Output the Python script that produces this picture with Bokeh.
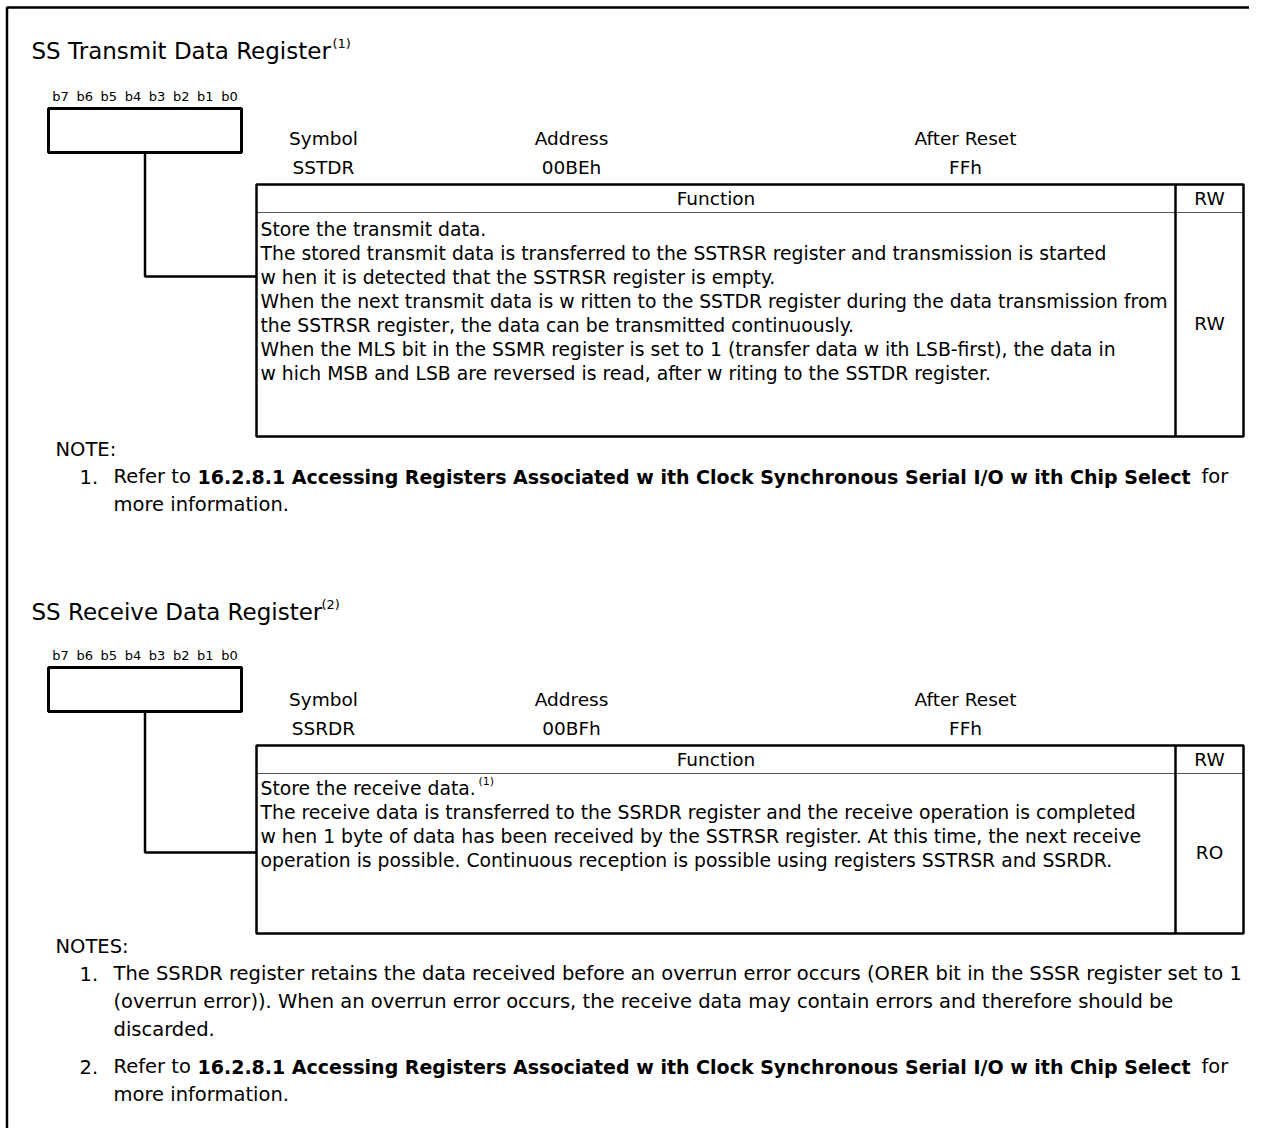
from bokeh.plotting import figure
from bokeh.models import Range1d
from bokeh.core.properties import value
from bokeh.embed import file_html
from bokeh.resources import INLINE

# ---------------- content ----------------
TITLES = ["SS Transmit Data Register", "SS Receive Data Register"]
TITLE_REFS = ["(1)", "(2)"]
BITS = ["b7", "b6", "b5", "b4", "b3", "b2", "b1", "b0"]
INFO_HEADERS = ["Symbol", "Address", "After Reset"]
SYMBOLS = ["SSTDR", "SSRDR"]
ADDRESSES = ["00BEh", "00BFh"]
AFTER_RESET = ["FFh", "FFh"]
COL_HEADERS = ["Function", "RW"]
RW_VALUES = ["RW", "RO"]

FUNCTION_1 = [
    "Store the transmit data.",
    "The stored transmit data is transferred to the SSTRSR register and transmission is started",
    "w hen it is detected that the SSTRSR register is empty.",
    "When the next transmit data is w ritten to the SSTDR register during the data transmission from",
    "the SSTRSR register, the data can be transmitted continuously.",
    "When the MLS bit in the SSMR register is set to 1 (transfer data w ith LSB-first), the data in",
    "w hich MSB and LSB are reversed is read, after w riting to the SSTDR register.",
]
FUNCTION_2 = [
    "Store the receive data.",
    "The receive data is transferred to the SSRDR register and the receive operation is completed",
    "w hen 1 byte of data has been received by  the SSTRSR register. At this time, the next receive",
    "operation is possible. Continuous reception is possible using registers SSTRSR and SSRDR.",
]
FUNCTION_2_REF = "(1)"

NOTE_HEADS = ["NOTE:", "NOTES:"]
REFER_PRE = "Refer to"
REFER_BOLD = "16.2.8.1 Accessing Registers Associated w ith Clock Synchronous Serial I/O w ith Chip Select"
REFER_POST = "for"
REFER_TAIL = "more information."
NOTE2_ITEM1 = [
    "The SSRDR register retains the data received before an overrun error occurs (ORER bit in the SSSR register set to 1",
    "(overrun error)). When an overrun error occurs, the receive data may contain errors and therefore should be",
    "discarded.",
]

# ---------------- styling ----------------
FONT = "DejaVu Sans"
BODY = "18.8px"
INFO_SIZE = "18.5px"
NOTE_SIZE = "19.5px"
INK = "#000000"

p = figure(width=1249, height=1128,
           x_range=Range1d(0, 1249), y_range=Range1d(1128, 0),
           output_backend="svg", toolbar_location=None,
           x_axis_location=None, y_axis_location=None,
           min_border=0, background_fill_color="white",
           border_fill_color="white")
p.grid.visible = False
p.outline_line_color = None


def txt(x, y, t, size=BODY, align="left", style="normal", baseline="middle"):
    p.text(x=x, y=y, text=t, text_font=value(FONT), text_font_size=size,
           text_align=align, text_baseline=baseline, text_color=INK,
           text_font_style=style)


# outer frame (top and left rules)
p.line(x=[6.5, 6.5, 1249], y=[1128, 7, 7], line_color=INK, line_width=2.5)

blocks = [
    dict(title_y=50, ref_x=332, bits_y=96, box=(108, 152), info_y=(138, 167),
         table=(184, 212, 436), conn_y=276, lines=FUNCTION_1, line0=229),
    dict(title_y=611, ref_x=321, bits_y=655, box=(667, 711), info_y=(699, 728),
         table=(745, 773, 933), conn_y=852, lines=FUNCTION_2, line0=788),
]

BOX_L, BOX_R = 48, 241
TAB_L, TAB_R, TAB_DIV = 256, 1243, 1175
INFO_X = [323, 571, 965]
values_by_block = [
    [SYMBOLS[0], ADDRESSES[0], AFTER_RESET[0]],
    [SYMBOLS[1], ADDRESSES[1], AFTER_RESET[1]],
]

for i, b in enumerate(blocks):
    ty = b["title_y"]
    txt([31], [ty], [TITLES[i]], size="23px")
    txt([b["ref_x"]], [ty - 7], [TITLE_REFS[i]], size="13px")

    # bit labels over register box
    cell = (BOX_R - BOX_L) / len(BITS)
    bx = [BOX_L + cell * (k + 0.5) for k in range(len(BITS))]
    txt(bx, [b["bits_y"]] * len(BITS), BITS, size="13px", align="center")

    # register box
    top, bot = b["box"]
    p.quad(left=[BOX_L], right=[BOX_R], top=[top], bottom=[bot],
           fill_color="white", line_color=INK, line_width=3)

    # symbol / address / after reset
    y1, y2 = b["info_y"]
    txt(INFO_X, [y1] * 3, INFO_HEADERS, size=INFO_SIZE, align="center")
    txt(INFO_X, [y2] * 3, values_by_block[i], size=INFO_SIZE, align="center")

    # function table
    t_top, t_hdr, t_bot = b["table"]
    p.line(x=[TAB_L, TAB_R], y=[t_hdr, t_hdr], line_color="#555555", line_width=1.2)
    p.line(x=[TAB_DIV, TAB_DIV], y=[t_top, t_bot], line_color=INK, line_width=2.5)
    p.quad(left=[TAB_L], right=[TAB_R], top=[t_top], bottom=[t_bot],
           fill_color=None, line_color=INK, line_width=2.5)
    hy = (t_top + t_hdr) / 2
    txt([(TAB_L + TAB_DIV) / 2, (TAB_DIV + TAB_R) / 2], [hy, hy], COL_HEADERS,
        size=INFO_SIZE, align="center")
    txt([(TAB_DIV + TAB_R) / 2], [(t_hdr + t_bot) / 2 - 1], [RW_VALUES[i]],
        size=INFO_SIZE, align="center")

    lines = b["lines"]
    ly = [b["line0"] + 24 * k for k in range(len(lines))]
    txt([TAB_L + 4] * len(lines), ly, lines)

    # connector from register box to table
    cx = (BOX_L + BOX_R) / 2
    p.line(x=[cx, cx, TAB_L], y=[bot, b["conn_y"], b["conn_y"]],
           line_color=INK, line_width=2.5)

# footnote ref in second table
txt([478], [781], [FUNCTION_2_REF], size="11px")

# note layout
HEAD_X, NUM_X, TEXT_X, BOLD_X, POST_X = 55, 79, 113, 197, 1201
LINE = 28

# notes block 1
txt([HEAD_X], [449], [NOTE_HEADS[0]], size=NOTE_SIZE)
txt([NUM_X], [476], ["1."], size=NOTE_SIZE)
txt([TEXT_X], [476], [REFER_PRE], size=NOTE_SIZE)
txt([BOLD_X], [476], [REFER_BOLD], size="19px", style="bold")
txt([POST_X], [476], [REFER_POST], size=NOTE_SIZE)
txt([TEXT_X], [476 + LINE], [REFER_TAIL], size=NOTE_SIZE)

# notes block 2
txt([HEAD_X], [946], [NOTE_HEADS[1]], size=NOTE_SIZE)
txt([NUM_X], [973], ["1."], size=NOTE_SIZE)
ny = [973 + LINE * k for k in range(len(NOTE2_ITEM1))]
txt([TEXT_X] * len(ny), ny, NOTE2_ITEM1, size=NOTE_SIZE)
y2 = 1066
txt([NUM_X], [y2], ["2."], size=NOTE_SIZE)
txt([TEXT_X], [y2], [REFER_PRE], size=NOTE_SIZE)
txt([BOLD_X], [y2], [REFER_BOLD], size="19px", style="bold")
txt([POST_X], [y2], [REFER_POST], size=NOTE_SIZE)
txt([TEXT_X], [y2 + LINE], [REFER_TAIL], size=NOTE_SIZE)

open("out.html", "w").write(file_html(p, INLINE))
